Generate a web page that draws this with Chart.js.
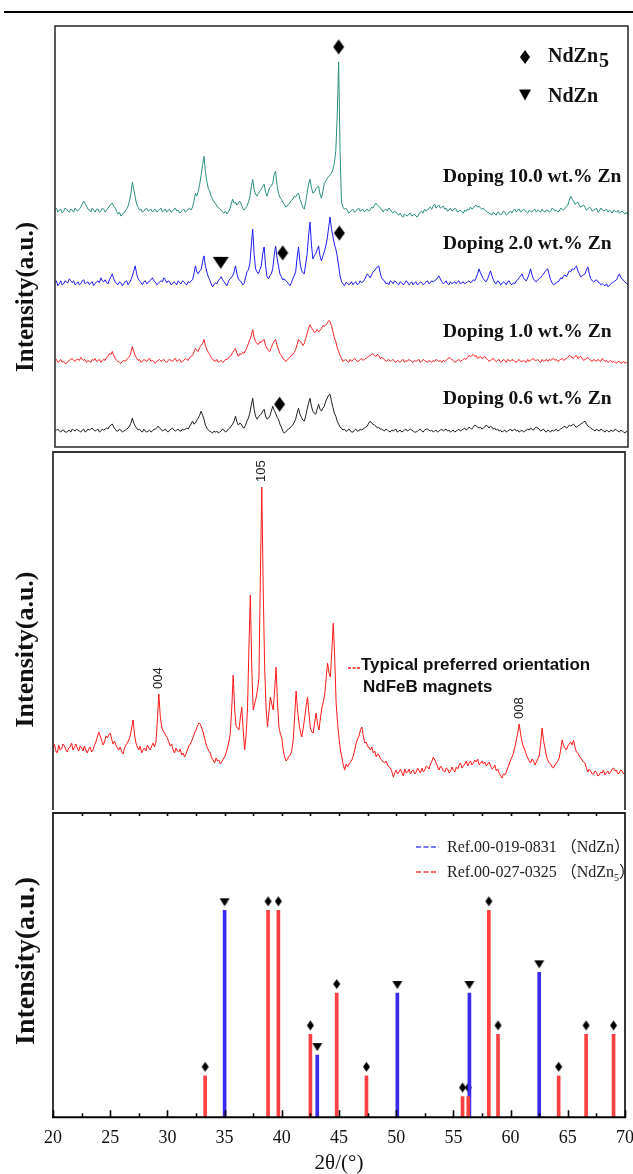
<!DOCTYPE html>
<html>
<head>
<meta charset="utf-8">
<script src="https://cdn.jsdelivr.net/npm/chart.js@4.4.1/dist/chart.umd.min.js"></script>
<style>
  html, body { margin: 0; padding: 0; background: #fff; overflow: hidden; }
  body { width: 633px; height: 1174px; position: relative; }
  canvas { position: absolute; left: 0; }
  #rule { position: absolute; left: 4px; top: 11px; width: 629px; height: 2px; background: #000; }
</style>
</head>
<body>
<div id="rule"></div>
<canvas id="scan" width="633" height="452" style="top:0"></canvas>
<canvas id="magnet" width="633" height="360" style="top:450px"></canvas>
<canvas id="refs" width="644" height="366" style="top:808px"></canvas>
<script>
// 2θ grid shared by all scans: 20° .. 70°, 0.125° step (one row per degree)
const start = 20, step = 0.125;

// doped samples, intensity above each scan's own baseline (a.u.)
const zn100 = [
  1, 3, -1, 1, 2, -2, 0, 3,
  2, 0, -1, 2, 1, -1, 3, 1,
  0, 2, 4, 7, 10, 8, 5, 2,
  1, -1, 3, 1, -1, 2, 2, -1,
  0, 3, 2, -1, 1, 3, 5, 7,
  8, 5, 3, 0, -3, -1, -5, -3,
  -2, 0, 2, 5, 10, 18, 29, 22,
  14, 7, 4, 1, 2, -1, 0, 2,
  3, 0, 1, 2, -1, 1, 2, -1,
  0, 2, 3, -1, 1, 2, -1, 1,
  2, -1, 0, 2, 3, 0, 1, -2,
  -1, 1, 2, -1, 0, 2, 3, 1,
  4, 10, 18, 15, 20, 27, 36, 46,
  55, 40, 30, 23, 20, 15, 12, 9,
  8, 5, 4, 2, 1, -1, -2, 0,
  -3, -1, 2, 7, 12, 8, 9, 6,
  8, 10, 7, 3, 1, 3, 5, 9,
  14, 24, 32, 22, 17, 15, 18, 20,
  22, 25, 27, 19, 15, 20, 24, 25,
  28, 37, 40, 26, 18, 14, 12, 9,
  7, 4, 5, 7, 8, 11, 12, 15,
  14, 17, 18, 12, 8, 4, 2, 9,
  18, 27, 32, 24, 18, 19, 22, 24,
  25, 17, 13, 20, 28, 30, 33, 35,
  36, 38, 42, 48, 60, 95, 150, 60,
  9, 4, 2, 3, 1, -2, -1, 1,
  2, -1, 0, 2, 3, 0, 1, 2,
  -1, 1, 2, 0, 1, 4, 3, 6,
  8, 6, 5, 3, 2, -1, 1, 2,
  0, 3, 2, -1, -2, 0, -1, -3,
  -4, -2, -5, -6, -3, -4, -5, -3,
  -2, -5, -4, -3, -5, -6, -3, -1,
  0, -2, 2, 0, 1, 3, 4, 2,
  5, 7, 3, 5, 6, 3, 4, 5,
  2, 3, 0, 1, 3, 0, 1, 3,
  2, -1, 0, 1, -1, -2, 1, 0,
  2, 1, 4, 2, 3, 5, 6, 4,
  5, 3, 2, 3, 1, 0, -1, -2,
  -3, -4, -1, -3, -4, -1, -2, -4,
  -3, 0, -1, -4, -3, -1, 0, -2,
  1, 2, -1, 1, 2, -1, 0, 2,
  1, -1, -2, 1, 0, -1, 1, 2,
  -1, 1, 0, -1, 2, 0, -1, 1,
  1, -1, 0, 3, 2, 0, 1, -1,
  0, 3, 2, 1, 3, 5, 6, 11,
  15, 12, 10, 7, 8, 9, 6, 4,
  5, 6, 4, 1, 2, 4, 3, 0,
  1, 2, 3, -1, 0, 3, 2, 0,
  1, 2, -1, 1, 0, -2, 1, 0,
  -1, 1, -2, -1, 0, -2, -3, -1,
  -4
];
const zn20 = [
  1, 3, -2, 0, 3, -1, 0, 3,
  2, 1, 5, 3, 1, 3, -1, 0,
  2, -1, 0, 3, 4, 0, 1, 2,
  -1, 1, 2, -2, 0, 2, 3, 1,
  6, 3, 2, 4, 1, 0, 4, 7,
  10, 5, 2, 0, -1, 2, 1, -2,
  0, 2, 3, -1, 1, 4, 8, 13,
  18, 10, 5, 3, 1, -1, 2, 3,
  0, 1, 3, 4, 6, 3, 2, -1,
  0, 2, 3, 2, 6, 4, 1, 3,
  2, -1, 0, 2, 1, -1, 3, 1,
  0, 3, 2, 0, -1, 2, 1, 3,
  4, 10, 18, 12, 10, 13, 14, 22,
  28, 18, 12, 7, 4, 0, -3, -1,
  1, 0, 3, 5, 7, 4, 2, 0,
  -2, 2, 5, 6, 8, 12, 18, 10,
  5, 3, 2, -1, 0, 6, 12, 14,
  20, 38, 55, 30, 15, 12, 10, 14,
  18, 30, 37, 18, 7, 5, 8, 10,
  15, 28, 38, 26, 18, 10, 7, 4,
  5, 3, 2, 0, -2, 1, 5, 8,
  12, 26, 37, 22, 14, 11, 10, 20,
  30, 48, 62, 40, 25, 28, 30, 34,
  38, 28, 23, 28, 32, 38, 45, 56,
  67, 55, 48, 40, 35, 28, 18, 8,
  2, 0, -2, 1, 1, -1, 0, 2,
  -1, 1, 2, -1, 0, 3, 1, 2,
  4, 7, 10, 8, 6, 9, 12, 13,
  15, 17, 18, 11, 6, 4, 3, 0,
  1, -1, 3, 2, 0, 3, 2, 0,
  -1, 2, 1, -1, 0, 3, 2, -1,
  0, 2, -1, 1, 2, -1, 0, 2,
  1, -1, 0, 2, 3, 0, 1, 3,
  2, 3, 4, 6, 8, 5, 2, 0,
  1, 3, 0, -1, 2, 0, 1, 2,
  0, 2, 3, 0, 1, 2, 0, 1,
  2, 3, 1, 2, 4, 3, 6, 10,
  15, 11, 8, 5, 3, 2, 5, 9,
  13, 8, 4, 1, 0, 3, 2, -1,
  0, 2, 1, -1, 2, 3, 0, -1,
  1, 0, 3, 4, 6, 8, 10, 6,
  4, 3, 6, 10, 15, 9, 5, 3,
  2, 4, 5, 6, 8, 10, 12, 14,
  15, 9, 4, 1, -1, 0, 1, 2,
  3, 6, 5, 8, 9, 7, 10, 13,
  12, 15, 14, 16, 18, 13, 10, 7,
  8, 9, 10, 14, 17, 10, 5, 3,
  2, 3, 4, 2, 1, -1, 0, -1,
  -2, 0, -3, -2, 0, 1, 2, 3,
  4, 7, 10, 6, 5, 3, 2, 0,
  -1
];
const zn10 = [
  1, 2, -1, 0, 2, -1, 0, -2,
  -2, 0, 1, 2, 3, 1, 0, 2,
  2, 1, 4, 2, 1, 2, -1, 1,
  0, -1, 2, 1, 3, 0, 1, 2,
  -1, 1, 2, 1, 4, 5, 8, 7,
  10, 6, 3, 1, 0, -1, -2, 0,
  1, 0, 2, 3, 5, 9, 15, 10,
  6, 3, 1, 2, -1, 0, 2, 1,
  0, 2, 3, 0, 1, 0, -2, 0,
  1, 2, 0, 1, 2, 0, -1, 1,
  2, 1, 0, 2, 3, 0, 1, 2,
  -1, 0, 1, 3, 2, 1, 4, 5,
  6, 9, 13, 11, 10, 14, 16, 18,
  22, 16, 12, 9, 7, 4, 2, 1,
  0, 2, -1, 0, 1, -1, 0, 2,
  2, 3, 5, 6, 9, 11, 13, 8,
  5, 8, 7, 9, 8, 11, 14, 18,
  22, 26, 32, 24, 20, 18, 17, 20,
  19, 21, 22, 16, 13, 11, 10, 14,
  18, 20, 22, 16, 12, 8, 6, 3,
  2, 0, 1, 3, 4, 6, 7, 9,
  12, 17, 22, 20, 19, 16, 18, 23,
  28, 33, 37, 34, 32, 29, 30, 32,
  30, 31, 33, 36, 35, 37, 38, 41,
  40, 36, 30, 24, 20, 14, 10, 6,
  3, 0, 1, 2, 0, -1, 2, 0,
  1, 3, 2, 0, 0, 2, 3, 1,
  2, 3, 4, 5, 6, 7, 8, 6,
  5, 7, 6, 3, 4, 3, 2, 0,
  1, 2, 0, 1, 2, 0, -1, 1,
  0, -1, 1, 2, -1, 1, 0, 2,
  1, 0, -1, 1, 0, 1, 2, -1,
  0, 2, 1, 0, -1, 1, 0, -1,
  1, 0, 2, 1, 0, 1, -1, 1,
  0, 1, 2, 4, 3, 2, 1, -1,
  0, 1, 2, 0, 1, 2, 3, 2,
  4, 6, 5, 6, 7, 5, 6, 3,
  4, 5, 3, 4, 5, 3, 2, 0,
  1, 2, 3, 1, 0, 1, 2, -1,
  0, 2, 1, -1, 2, 1, 0, 2,
  1, 0, -1, 1, 2, 0, 0, 1,
  0, -1, 2, 0, 1, 2, 3, 1,
  1, 2, 0, -1, 2, 0, 1, 2,
  0, 2, 1, 2, 3, 1, 2, 0,
  1, 2, 3, 1, 2, 3, 4, 6,
  5, 4, 3, 5, 6, 3, 4, 5,
  3, 1, 2, 3, 4, 2, 1, 0,
  2, 1, 0, 2, 1, 0, 3, 1,
  0, 1, -1, 0, 1, -1, 0, -1,
  -2, 0, 0, -2, -1, 0, -2, -1,
  -2
];
const zn06 = [
  0, 1, 2, 0, -1, 1, 1, -1,
  -1, 0, 1, -1, 2, 1, 0, 2,
  1, 0, -1, 1, 2, -1, 0, 2,
  1, 2, 3, 1, 0, 1, 2, -1,
  0, 2, 1, 2, 3, 2, 5, 6,
  7, 4, 2, 0, 0, 2, 1, -1,
  0, 1, 2, 3, 5, 8, 13, 8,
  5, 3, 1, 2, 0, -1, 2, 0,
  -1, 0, 1, -1, 0, 2, 2, 3,
  5, 3, 2, 0, 1, 2, 0, -1,
  1, 2, 3, 1, 0, 1, 2, 0,
  0, 2, 1, 2, 3, 2, 5, 7,
  10, 7, 8, 11, 13, 16, 20, 16,
  12, 6, 3, 1, 0, -1, -2, 0,
  -1, 0, -2, -1, 0, 2, 1, -1,
  0, 2, 3, 5, 7, 10, 15, 9,
  6, 8, 7, 4, 3, 6, 10, 13,
  18, 26, 33, 22, 15, 12, 14, 16,
  17, 20, 22, 15, 12, 13, 15, 20,
  25, 21, 18, 14, 12, 7, 4, 0,
  -2, -1, 1, 2, 3, 5, 6, 9,
  12, 18, 23, 17, 14, 11, 10, 15,
  22, 28, 33, 25, 20, 18, 17, 22,
  27, 22, 20, 23, 25, 30, 33, 36,
  37, 30, 24, 18, 15, 10, 7, 4,
  3, 1, 2, 0, 0, 2, 1, -1,
  -1, 1, 2, 0, 0, 2, 1, 2,
  3, 4, 5, 8, 10, 8, 7, 6,
  5, 3, 4, 2, 2, 1, 0, 2,
  1, 0, -1, 1, 0, 1, 2, -1,
  0, 1, -1, 0, 1, 2, 0, 1,
  2, 1, 0, -1, -1, 0, 1, 2,
  0, -1, 1, 2, 2, 1, 0, 1,
  -1, 0, 1, -1, 0, 1, 2, 0,
  1, 2, 0, 1, -1, 0, 1, -1,
  0, 1, 2, 0, 1, 2, 3, 1,
  2, 4, 3, 2, 4, 6, 5, 4,
  3, 4, 2, 3, 4, 6, 5, 3,
  5, 4, 2, 3, 1, 2, 0, 1,
  -1, 0, 1, -1, 0, 1, 2, 0,
  1, 2, 0, 1, -1, 0, 1, -1,
  0, 1, 2, 1, 3, 2, 1, 3,
  4, 3, 2, 0, 1, 2, 0, -1,
  1, 0, -1, 1, 0, 1, 2, 0,
  1, 2, 3, 4, 5, 3, 4, 6,
  5, 6, 7, 5, 4, 5, 6, 7,
  8, 9, 10, 7, 5, 4, 3, 2,
  1, 0, 2, 1, 0, 2, 1, 0,
  -1, 1, 0, -1, 1, 0, 0, 2,
  1, 0, -1, 1, 0, -1, -2, 0,
  -1
];
const sampleNames = ['Doping 10.0 wt.% Zn', 'Doping 2.0 wt.% Zn', 'Doping 1.0 wt.% Zn', 'Doping 0.6 wt.% Zn'];
const sampleColors = ['#2b8f82', '#1c1cf2', '#f52222', '#202020'];
const stackShift = [237, 164, 86, 16];
const nameLevel = [271, 204, 116, 48];
const nameAt = 53.86;

// phase marks over the doped scans
const markNd5Deg = [44.75, 39.87, 44.81, 39.6];
const markNd5Level = [402, 195, 215, 43];
const markNdDeg = [34.46];
const markNdLevel = [185];

// commercial NdFeB magnet scan (a.u.)
const magnetScan = [
  60, 64, 57, 55, 63, 58, 59, 64,
  62, 58, 56, 60, 61, 65, 58, 61,
  64, 60, 57, 62, 60, 57, 62, 58,
  55, 59, 61, 56, 58, 63, 66, 71,
  76, 72, 68, 63, 66, 72, 70, 73,
  75, 69, 64, 67, 63, 60, 58, 61,
  56, 54, 60, 63, 65, 68, 72, 80,
  88, 74, 65, 61, 58, 62, 55, 58,
  60, 57, 63, 60, 58, 62, 65, 61,
  66, 88, 114, 92, 81, 77, 75, 72,
  70, 66, 62, 64, 58, 55, 60, 57,
  56, 59, 53, 55, 51, 54, 58, 62,
  64, 67, 71, 75, 78, 82, 85, 84,
  80, 76, 70, 64, 60, 57, 55, 50,
  48, 45, 50, 47, 48, 44, 46, 49,
  51, 55, 60, 66, 75, 100, 133, 100,
  82, 80, 78, 90, 101, 78, 58, 72,
  98, 160, 213, 140, 98, 104, 110, 118,
  130, 230, 321, 220, 141, 100, 81, 96,
  111, 104, 98, 118, 141, 105, 81, 74,
  70, 58, 51, 47, 49, 52, 53, 58,
  68, 92, 117, 98, 85, 76, 71, 80,
  90, 102, 111, 94, 80, 76, 75, 86,
  95, 84, 78, 90, 100, 106, 113, 130,
  145, 135, 131, 158, 185, 150, 105, 85,
  70, 58, 51, 43, 38, 44, 41, 44,
  46, 48, 52, 58, 65, 69, 72, 78,
  81, 72, 65, 66, 62, 60, 58, 61,
  55, 57, 51, 54, 53, 49, 48, 46,
  45, 47, 43, 41, 40, 36, 31, 35,
  38, 34, 36, 39, 35, 32, 39, 35,
  36, 39, 34, 37, 38, 34, 36, 40,
  37, 35, 40, 36, 38, 42, 41, 39,
  44, 47, 51, 48, 45, 41, 38, 42,
  40, 37, 36, 40, 39, 35, 37, 41,
  38, 36, 41, 39, 43, 45, 40, 42,
  44, 47, 42, 45, 47, 43, 45, 48,
  46, 49, 43, 45, 47, 44, 46, 42,
  44, 46, 42, 39, 40, 43, 37, 39,
  35, 32, 30, 34, 33, 36, 40, 44,
  48, 51, 55, 61, 68, 75, 84, 74,
  66, 61, 58, 53, 50, 47, 45, 49,
  47, 43, 46, 49, 52, 64, 80, 68,
  60, 52, 48, 45, 44, 41, 40, 43,
  45, 47, 50, 58, 68, 63, 60, 58,
  62, 64, 66, 63, 68, 61, 56, 55,
  52, 50, 48, 46, 45, 40, 36, 39,
  37, 34, 34, 37, 36, 32, 33, 36,
  35, 38, 33, 35, 37, 34, 36, 39,
  40, 37, 38, 34, 35, 38, 37, 34,
  33
];
const hklNames = ['004', '105', '008'];
const hklDeg = [29.25, 38.25, 60.75];

// reference patterns, relative intensity
const nd5Deg = [33.3, 38.8, 39.7, 42.5, 44.8, 47.4, 55.8, 56.3, 58.1, 58.9, 64.2, 66.6, 69.0];
const nd5Int = [20, 100, 100, 40, 60, 20, 10, 10, 100, 40, 20, 40, 40];
const ndDeg = [35.0, 43.1, 50.1, 56.4, 62.5];
const ndInt = [100, 30, 60, 60, 70];

const serif = '"Liberation Serif", "Times New Roman", serif';
const sans = '"Liberation Sans", Arial, sans-serif';

const toPoints = (vals, shift = 0) => vals.map((v, i) => ({ x: start + i * step, y: v + shift }));
const pair = (xs, ys) => xs.map((x, i) => ({ x, y: ys[i] }));

// filled marker glyph drawn 'lift' px above its anchor point
function glyph(kind, w, h, lift) {
  const c = document.createElement('canvas');
  c.width = w + 2;
  c.height = h + 2 * lift + 2;
  const g = c.getContext('2d');
  g.fillStyle = '#000';
  g.beginPath();
  if (kind === 'diamond') {
    g.moveTo(1 + w / 2, 1); g.lineTo(1 + w, 1 + h / 2); g.lineTo(1 + w / 2, 1 + h); g.lineTo(1, 1 + h / 2);
  } else {
    g.moveTo(1, 1); g.lineTo(1 + w, 1); g.lineTo(1 + w / 2, 1 + h);
  }
  g.closePath();
  g.fill();
  return c;
}
const diamondBig = glyph('diamond', 11, 15, 0);
const triangleBig = glyph('tri', 16, 12, 0);
const diamondKey = glyph('diamond', 10, 14, 0);
const triangleKey = glyph('tri', 12, 11, 0);
const diamondSmall = glyph('diamond', 7, 10, 9);
const triangleSmall = glyph('tri', 10, 8, 8);

function yTitle(ctx, x, y, size) {
  ctx.save();
  ctx.translate(x, y);
  ctx.rotate(-Math.PI / 2);
  ctx.font = `bold ${size}px ${serif}`;
  ctx.fillStyle = '#111';
  ctx.textAlign = 'center';
  ctx.textBaseline = 'middle';
  ctx.fillText('Intensity(a.u.)', 0, 0);
  ctx.restore();
}

Chart.defaults.animation = false;
Chart.defaults.plugins.legend.display = false;
Chart.defaults.plugins.tooltip.enabled = false;

// ---- top: doped samples ----
const scanDecor = {
  id: 'scanDecor',
  afterDraw(chart) {
    const { ctx, chartArea: a, scales: { x, y } } = chart;
    ctx.save();
    ctx.strokeStyle = '#333';
    ctx.lineWidth = 1.6;
    ctx.strokeRect(a.left, a.top, a.right - a.left, a.bottom - a.top);

    ctx.fillStyle = '#111';
    ctx.font = `bold 19.5px ${serif}`;
    ctx.textBaseline = 'middle';
    sampleNames.forEach((t, i) => {
      ctx.fillText(t, x.getPixelForValue(nameAt), y.getPixelForValue(nameLevel[i]));
    });

    // phase key
    const kx = a.right - 103, k1 = a.top + 31, k2 = a.top + 69;
    ctx.drawImage(diamondKey, kx - diamondKey.width / 2, k1 - diamondKey.height / 2);
    ctx.drawImage(triangleKey, kx - triangleKey.width / 2, k2 - triangleKey.height / 2);
    ctx.textBaseline = 'alphabetic';
    ctx.font = `bold 20px ${serif}`;
    ctx.fillText('NdZn', kx + 23, k1 + 5);
    const w = ctx.measureText('NdZn').width;
    ctx.fillText('5', kx + 24 + w, k1 + 10);
    ctx.fillText('NdZn', kx + 23, k2 + 7);
    ctx.restore();

    yTitle(ctx, 27, 297, 25);
  }
};

new Chart(document.getElementById('scan'), {
  type: 'line',
  data: {
    datasets: [
      ...[zn100, zn20, zn10, zn06].map((vals, i) => ({
        label: sampleNames[i],
        data: toPoints(vals, stackShift[i]),
        borderColor: sampleColors[i],
        borderWidth: 1,
        pointRadius: 0,
        tension: 0
      })),
      { type: 'scatter', label: 'NdZn5', data: pair(markNd5Deg, markNd5Level), pointStyle: diamondBig, pointRadius: 3 },
      { type: 'scatter', label: 'NdZn', data: pair(markNdDeg, markNdLevel), pointStyle: triangleBig, pointRadius: 3 }
    ]
  },
  options: {
    responsive: false,
    layout: { padding: { left: 55, right: 5, top: 26, bottom: 3 } },
    scales: {
      x: { type: 'linear', min: 20, max: 70, display: false },
      y: { min: 0, max: 423, display: false }
    }
  },
  plugins: [scanDecor]
});

// ---- middle: magnet scan ----
const magnetDecor = {
  id: 'magnetDecor',
  afterDraw(chart) {
    const { ctx, chartArea: a, scales: { x, y } } = chart;
    ctx.save();
    ctx.strokeStyle = '#333';
    ctx.lineWidth = 1.8;
    ctx.beginPath();
    ctx.moveTo(a.left, a.bottom + 2); ctx.lineTo(a.left, a.top);
    ctx.lineTo(a.right, a.top); ctx.lineTo(a.right, a.bottom + 2);
    ctx.stroke();

    // reflection indices over their peaks
    ctx.fillStyle = '#222';
    ctx.font = `13px ${sans}`;
    ctx.textAlign = 'left';
    ctx.textBaseline = 'middle';
    hklNames.forEach((t, i) => {
      const idx = Math.round((hklDeg[i] - start) / step);
      ctx.save();
      ctx.translate(x.getPixelForValue(hklDeg[i]), y.getPixelForValue(magnetScan[idx]) - 5);
      ctx.rotate(-Math.PI / 2);
      ctx.fillText(t, 0, 0);
      ctx.restore();
    });

    // key
    ctx.strokeStyle = '#ff1a1a';
    ctx.lineWidth = 1.5;
    ctx.setLineDash([3, 1.5]);
    ctx.beginPath();
    ctx.moveTo(348, 218); ctx.lineTo(360, 218);
    ctx.stroke();
    ctx.setLineDash([]);
    ctx.fillStyle = '#111';
    ctx.font = `bold 17px ${sans}`;
    ctx.fillText('Typical preferred orientation', 361, 215);
    ctx.fillText('NdFeB magnets', 363, 237);
    ctx.restore();

    yTitle(ctx, 26, 199.5, 26);
  }
};

new Chart(document.getElementById('magnet'), {
  type: 'line',
  data: {
    datasets: [{
      label: 'NdFeB',
      data: toPoints(magnetScan),
      borderColor: '#ff1a1a',
      borderWidth: 1,
      pointRadius: 0,
      tension: 0
    }]
  },
  options: {
    responsive: false,
    layout: { padding: { left: 53, right: 8, top: 2, bottom: 2 } },
    scales: {
      x: { type: 'linear', min: 20, max: 70, display: false },
      y: { min: 0, max: 356, display: false }
    }
  },
  plugins: [magnetDecor]
});

// ---- bottom: reference sticks ----
const refDecor = {
  id: 'refDecor',
  afterDraw(chart) {
    const { ctx, chartArea: a, scales: { x } } = chart;
    ctx.save();
    ctx.strokeStyle = '#222';
    ctx.lineWidth = 1.8;
    ctx.beginPath();
    ctx.moveTo(a.left, a.bottom); ctx.lineTo(a.left, a.top);
    ctx.lineTo(a.right, a.top); ctx.lineTo(a.right, a.bottom);
    ctx.stroke();

    ctx.strokeStyle = '#000';
    ctx.lineWidth = 2;
    ctx.beginPath();
    ctx.moveTo(a.left - 1, a.bottom); ctx.lineTo(a.right + 1, a.bottom);
    ctx.stroke();

    ctx.lineWidth = 1.6;
    ctx.beginPath();
    x.ticks.forEach(t => {
      const px = Math.round(x.getPixelForValue(t.value)) + 0.5;
      const len = t.value % 5 === 0 ? 7 : 4;
      ctx.moveTo(px, a.bottom); ctx.lineTo(px, a.bottom - len);
      if (t.value > 20 && t.value < 70) {
        ctx.moveTo(px, a.top); ctx.lineTo(px, a.top + 3);
      }
    });
    ctx.stroke();

    // key
    const keyFont = `16px "Liberation Serif", "Noto Sans CJK SC", serif`;
    ctx.lineWidth = 1.3;
    ctx.setLineDash([5, 2.5]);
    [['#4a4aff', 39], ['#ff4040', 64]].forEach(([c, ky]) => {
      ctx.strokeStyle = c;
      ctx.beginPath();
      ctx.moveTo(416, ky); ctx.lineTo(439, ky);
      ctx.stroke();
    });
    ctx.setLineDash([]);
    ctx.fillStyle = '#222';
    ctx.font = keyFont;
    ctx.textBaseline = 'alphabetic';
    ctx.fillText('Ref.00-019-0831 （NdZn）', 447, 44);
    const head = 'Ref.00-027-0325 （NdZn';
    ctx.fillText(head, 447, 69);
    let cx = 447 + ctx.measureText(head).width;
    ctx.font = `10px "Liberation Serif", serif`;
    ctx.fillText('5', cx, 73);
    cx += ctx.measureText('5').width;
    ctx.font = keyFont;
    ctx.fillText('）', cx, 69);
    ctx.restore();

    yTitle(ctx, 27, 153, 28);
  }
};

new Chart(document.getElementById('refs'), {
  type: 'bar',
  data: {
    datasets: [
      { label: 'NdZn5 sticks', data: pair(nd5Deg, nd5Int), backgroundColor: '#ff4040', barThickness: 3, grouped: false },
      { label: 'NdZn sticks', data: pair(ndDeg, ndInt), backgroundColor: '#3b2bf0', barThickness: 3, grouped: false },
      { type: 'scatter', label: 'NdZn5', data: pair(nd5Deg, nd5Int), pointStyle: diamondSmall, pointRadius: 3 },
      { type: 'scatter', label: 'NdZn', data: pair(ndDeg, ndInt), pointStyle: triangleSmall, pointRadius: 3 }
    ]
  },
  options: {
    responsive: false,
    layout: { padding: { left: 53, right: 0, top: 1, bottom: 0 } },
    scales: {
      x: {
        type: 'linear',
        min: 20,
        max: 70,
        offset: false,
        grid: { display: false, drawTicks: false },
        border: { display: false },
        ticks: {
          stepSize: 2.5,
          autoSkip: false,
          maxRotation: 0,
          padding: 10,
          color: '#111',
          font: { family: serif, size: 18 },
          callback: v => (v % 5 === 0 ? v : '')
        },
        title: {
          display: true,
          text: '2θ/(°)',
          color: '#111',
          font: { family: serif, size: 21 },
          padding: { top: -8, bottom: -2 }
        }
      },
      y: { min: 0, max: 147, display: false }
    }
  },
  plugins: [refDecor]
});
</script>
</body>
</html>
